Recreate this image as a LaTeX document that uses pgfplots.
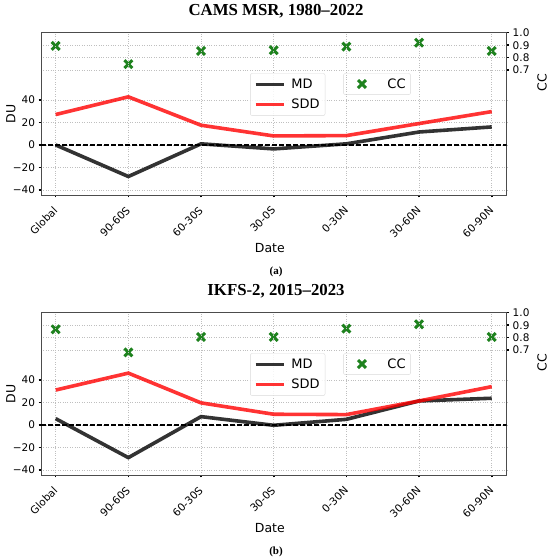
\documentclass[border=0pt]{standalone}
\usepackage{fontspec}
\setmainfont{DejaVu Sans}
\newfontfamily\serifb{Liberation Serif}
\usepackage{pgfplots}
\pgfplotsset{compat=1.18}
\definecolor{cccol}{RGB}{30,130,30}
\pgfplotsset{
  base/.style={scale only axis, width=465.7pt, height=162.3pt, xmin=-0.202, xmax=6.206,
    axis line style={draw=black!70, line width=0.8pt},
    tick style={black, line width=1.6pt}, major tick length=2.5pt, tick align=outside,
    grid style={dotted, black!25, line width=0.6pt},
    /pgf/number format/assume math mode=true,
    ticklabel style={font=\fontsize{10.5}{12}\selectfont},
    label style={font=\fontsize{12.5}{14}\selectfont}},
  duax/.style={base, ymin=-44.4, ymax=99.6,
    xtick={0,1,2,3,4,5,6}, xticklabels={Global,90-60S,60-30S,30-0S,0-30N,30-60N,60-90N},
    xticklabel style={rotate=45, anchor=north east, inner sep=0pt, xshift=-7.8pt, yshift=-3.5pt},
    ytick={-40,-20,0,20,40}, yticklabels={−40,−20,0,20,40},
    xtick pos=left, ytick pos=left, xmajorgrids, ymajorgrids,
    xlabel={Date},
    xlabel style={at={(axis description cs:0.4914,0)}, anchor=center, yshift=-52.7pt},
    ylabel={DU},
    ylabel style={at={(axis description cs:0,0.5)}, anchor=south, rotate=0, yshift=22pt},
    legend style={at={(0.449,0.75)}, anchor=north west, draw=black!15, rounded corners=2pt,
      fill=white, fill opacity=0.85, text opacity=1, font=\fontsize{13}{15}\selectfont,
      inner sep=3.5pt, row sep=5pt,
      /tikz/every odd column/.append style={column sep=4pt}},
    legend cell align=left,
    legend image code/.code={\draw[##1] (0pt,0pt) -- (28pt,0pt);}},
  ccax/.style={base, ymin=-0.3, ymax=1.0, axis x line=none, axis y line*=right,
    ytick={0.7,0.8,0.9,1.0}, yticklabels={0.7,0.8,0.9,1.0}, ymajorgrids,
    ylabel={CC},
    ylabel style={at={(axis description cs:1,0.692)}, anchor=north, rotate=0, yshift=-27pt},
    legend style={at={(0.649,0.75)}, anchor=north west, draw=black!15, rounded corners=2pt,
      fill=white, fill opacity=0.85, text opacity=1, font=\fontsize{13}{15}\selectfont,
      inner sep=3pt}},
  mdline/.style={black, opacity=0.8, line width=3.6pt},
  sddline/.style={red, opacity=0.8, line width=3.6pt},
  ccmark/.style={only marks, mark=x, mark size=5.6pt, cccol, line width=3pt,
    mark options={cccol, line width=3pt},
    legend image code/.code={\begin{scope}[cccol, line width=3pt, xshift=14pt]\pgfsetplotmarksize{5.6pt}\pgfuseplotmark{x}\end{scope}\path (0pt,-5pt) (36pt,5pt);}},
  zline/.style={black, line width=1.2pt, dash pattern=on 4.5pt off 2.5pt, forget plot}
}
\begin{document}
\begin{tikzpicture}
\useasboundingbox (0pt,0pt) rectangle (550pt,560pt);
% ---------------- panel (a)
\begin{axis}[ccax, at={(41pt,365pt)}, anchor=south west]
\addplot[ccmark] coordinates {(0,0.894) (1,0.748) (2,0.854) (3,0.860) (4,0.889) (5,0.920) (6,0.854)};
\addlegendentry{CC}
\end{axis}
\begin{axis}[duax, at={(41pt,365pt)}, anchor=south west]
\addplot[zline] coordinates {(-0.202,0) (6.206,0)};
\addplot[mdline] coordinates {(0,0) (1,-28) (2,1) (3,-3.5) (4,1) (5,11.5) (6,16)};
\addlegendentry{MD}
\addplot[sddline] coordinates {(0,27) (1,42.7) (2,17.5) (3,8) (4,8.3) (5,19) (6,29.6)};
\addlegendentry{SDD}
\end{axis}
\node[font=\serifb\bfseries\fontsize{16.8}{19}\selectfont] at (276pt,548.3pt) {CAMS MSR, 1980–2022};
\node[font=\serifb\bfseries\fontsize{11}{13}\selectfont] at (276pt,288.3pt) {(a)};
% ---------------- panel (b)
\begin{axis}[ccax, at={(41pt,85pt)}, anchor=south west]
\addplot[ccmark] coordinates {(0,0.867) (1,0.682) (2,0.806) (3,0.806) (4,0.873) (5,0.907) (6,0.806)};
\addlegendentry{CC}
\end{axis}
\begin{axis}[duax, at={(41pt,85pt)}, anchor=south west]
\addplot[zline] coordinates {(-0.202,0) (6.206,0)};
\addplot[mdline] coordinates {(0,5.6) (1,-29) (2,7.4) (3,-0.3) (4,5) (5,21.3) (6,23.7)};
\addlegendentry{MD}
\addplot[sddline] coordinates {(0,31) (1,46) (2,19.6) (3,9.5) (4,9.2) (5,21.3) (6,34)};
\addlegendentry{SDD}
\end{axis}
\node[font=\serifb\bfseries\fontsize{16.8}{19}\selectfont] at (276pt,268.3pt) {IKFS-2, 2015–2023};
\node[font=\serifb\bfseries\fontsize{11}{13}\selectfont] at (276pt,8.3pt) {(b)};
\end{tikzpicture}
\end{document}
